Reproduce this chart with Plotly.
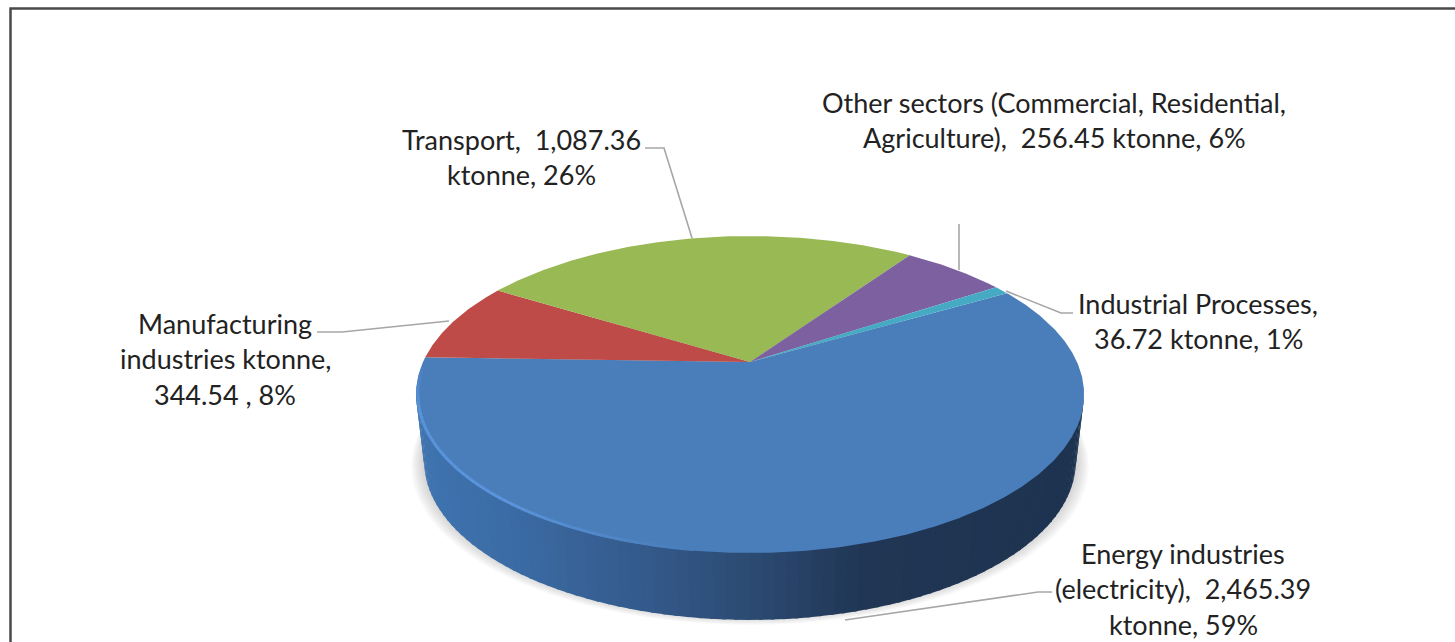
import numpy as np
import plotly.graph_objects as go

# ---- data (clockwise, starting with the Energy slice) ----
SECTORS = ["Energy industries (electricity)", "Manufacturing industries",
           "Transport", "Other sectors (Commercial, Residential, Agriculture)",
           "Industrial Processes"]
VALUES = [2465.39, 344.54, 1087.36, 256.45, 36.72]
COLORS = ["#4a7ebb", "#be4b48", "#98b954", "#7d60a0", "#46aac5"]
LABEL_LINES = [
    ["Energy industries", "(electricity),  2,465.39", "ktonne, 59%"],
    ["Manufacturing", "industries ktonne,", "344.54 , 8%"],
    ["Transport,  1,087.36", "ktonne, 26%"],
    ["Other sectors (Commercial, Residential,", "Agriculture),  256.45 ktonne, 6%"],
    ["Industrial Processes,", "36.72 ktonne, 1%"],
]

# ---- layout parameters ----
W, H = 1455, 642
CX, CY = 750, 362          # pie apex on screen
A, B, P = 327, 151.8, 0.205  # perspective of the tilted disc
START_DEG = 60.0
DEPTH, SHRINK = 67, 0.975
LABEL_CENTERS = [(1183, 553), (225, 323), (521, 139), (1054, 102), (1198, 303)]
LINE_STEP = 35.7
FONT = dict(family="Lato, Carlito, sans-serif", size=27, color="#222222")


def project(theta_deg, scale=1.0):
    t = np.radians(np.asarray(theta_deg, dtype=float))
    X, Y = np.sin(t), np.cos(t)
    w = 1 + P * Y
    return CX + scale * A * X / w, CY - scale * B * Y / w


def bottom(theta_deg):
    x, y = project(theta_deg)
    return CX + (x - CX) * SHRINK, y + DEPTH


def mix(c1, c2, f):
    a = [int(c1[i:i + 2], 16) for i in (1, 3, 5)]
    b = [int(c2[i:i + 2], 16) for i in (1, 3, 5)]
    return "rgb(%d,%d,%d)" % tuple(round(p + (q - p) * f) for p, q in zip(a, b))


SIDE_STOPS = [(420, "#3f74b0"), (520, "#3b6aa3"), (640, "#345a8c"), (760, "#2b4970"),
              (860, "#203654"), (1080, "#1d3350")]


def side_color(x):
    for (x0, c0), (x1, c1) in zip(SIDE_STOPS, SIDE_STOPS[1:]):
        if x <= x1:
            return mix(c0, c1, max(0, (x - x0) / (x1 - x0)))
    return SIDE_STOPS[-1][1]


fig = go.Figure()
common = dict(mode="lines", hoverinfo="skip", showlegend=False)

# soft shadow under the disc
ring = np.linspace(0, 360, 181)
sx, sy = bottom(ring)
for grow in range(13, 0, -2):
    fig.add_trace(go.Scatter(
        x=CX + (sx - CX) * (1 + grow / 330), y=sy + grow * 0.6 - 3,
        fill="toself", fillcolor="rgba(120,120,120,0.055)", line=dict(width=0), **common))

# side wall, shaded in narrow strips
fracs = np.array(VALUES) / sum(VALUES)
edges = START_DEG + np.concatenate([[0], np.cumsum(fracs) * 360])
silhouette = np.degrees(np.arccos(-P))
wall = np.linspace(silhouette, 360 - silhouette, 91)
for a0, a1 in zip(wall[:-1], wall[1:]):
    arc = np.linspace(a0, a1 + 0.5, 4)
    xt, yt = project(arc)
    xb, yb = bottom(arc[::-1])
    xs = np.concatenate([xt, xb])
    ys = np.concatenate([yt - 2, yb])
    fig.add_trace(go.Scatter(x=xs, y=ys, fill="toself", fillcolor=side_color(xs.mean()),
                             line=dict(width=0), **common))

# top face: one wedge per value
for v0, v1, name, col in zip(edges[:-1], edges[1:], SECTORS, COLORS):
    arc = np.linspace(v0, v1, max(3, int(v1 - v0) * 2))
    x, y = project(arc)
    fig.add_trace(go.Scatter(x=np.r_[CX, x, CX], y=np.r_[CY, y, CY], fill="toself",
                             fillcolor=col, line=dict(width=0), name=name, **common))

# lit bevel along the lower-left rim, fading at both ends
bevel = np.linspace(188, 268, 61)
bx, by = project(bevel, scale=0.994)
for i in range(len(bevel) - 1):
    strength = min(1.0, (bevel[i] - 188) / 30, (268 - bevel[i]) / 15)
    fig.add_trace(go.Scatter(x=bx[i:i + 2], y=by[i:i + 2],
                             line=dict(color=mix("#4a7ebb", "#5a94db", strength), width=3), **common))

# leader lines and frame
LEADERS = [
    "M645,148 L664,148 L692,238",
    "M317,332 L342,332 L449,321",
    "M959,224 L959,270",
    "M1006,291 L1061,313 L1073,313",
    "M845,620 L1038,592 L1052,592",
]
shapes = [dict(type="path", path=p, xref="x", yref="y", line=dict(color="#a6a6a6", width=1.6))
          for p in LEADERS]
shapes.append(dict(type="path", path="M1455,8.5 L10.5,8.5 L10.5,642", xref="x", yref="y",
                   line=dict(color="#4a4a4a", width=2.5)))

annotations = []
for lines, (lx, ly) in zip(LABEL_LINES, LABEL_CENTERS):
    for i, txt in enumerate(lines):
        annotations.append(dict(x=lx, y=ly + i * LINE_STEP, text=txt, showarrow=False, font=FONT,
                                xanchor="center", yanchor="middle", xref="x", yref="y"))

fig.update_layout(
    width=W, height=H, margin=dict(l=0, r=0, t=0, b=0),
    paper_bgcolor="white", plot_bgcolor="white", showlegend=False,
    xaxis=dict(range=[0, W], visible=False, fixedrange=True),
    yaxis=dict(range=[H, 0], visible=False, fixedrange=True),
    shapes=shapes, annotations=annotations,
)
fig.write_html("out.html", config=dict(displayModeBar=False),
               post_script="document.body.style.margin='0';document.documentElement.style.overflow='hidden';")
